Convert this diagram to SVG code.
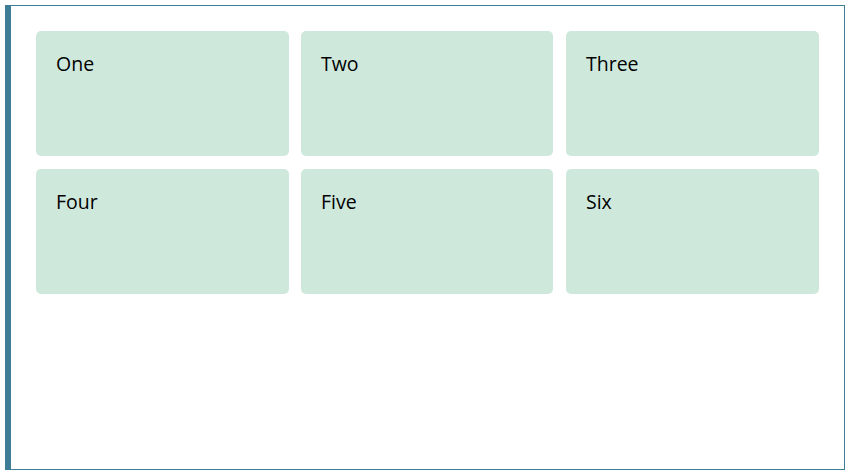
<svg xmlns="http://www.w3.org/2000/svg" width="847" height="473" viewBox="0 0 847 473">
<style>
.card{fill:#cfe8dc}
.lbl{font-family:"Open Sans","Noto Sans","Liberation Sans",sans-serif;font-size:19.5px;fill:#000}
</style>
<rect x="0" y="0" width="847" height="473" fill="#fff"/>
<rect x="5.5" y="5.5" width="839" height="464" fill="#fff" stroke="#3e7d96" stroke-width="1"/>
<rect x="5" y="5" width="6" height="465" fill="#3e7d96"/>
<g id="one"><rect class="card" x="36" y="31" width="253" height="125" rx="5"/><text class="lbl" x="56" y="71">One</text></g>
<g id="two"><rect class="card" x="301" y="31" width="252" height="125" rx="5"/><text class="lbl" x="321" y="71">Two</text></g>
<g id="three"><rect class="card" x="566" y="31" width="253" height="125" rx="5"/><text class="lbl" x="586" y="71">Three</text></g>
<g id="four"><rect class="card" x="36" y="169" width="253" height="125" rx="5"/><text class="lbl" x="56" y="209">Four</text></g>
<g id="five"><rect class="card" x="301" y="169" width="252" height="125" rx="5"/><text class="lbl" x="321" y="209">Five</text></g>
<g id="six"><rect class="card" x="566" y="169" width="253" height="125" rx="5"/><text class="lbl" x="586" y="209">Six</text></g>
<g id="connectors"></g>
</svg>
